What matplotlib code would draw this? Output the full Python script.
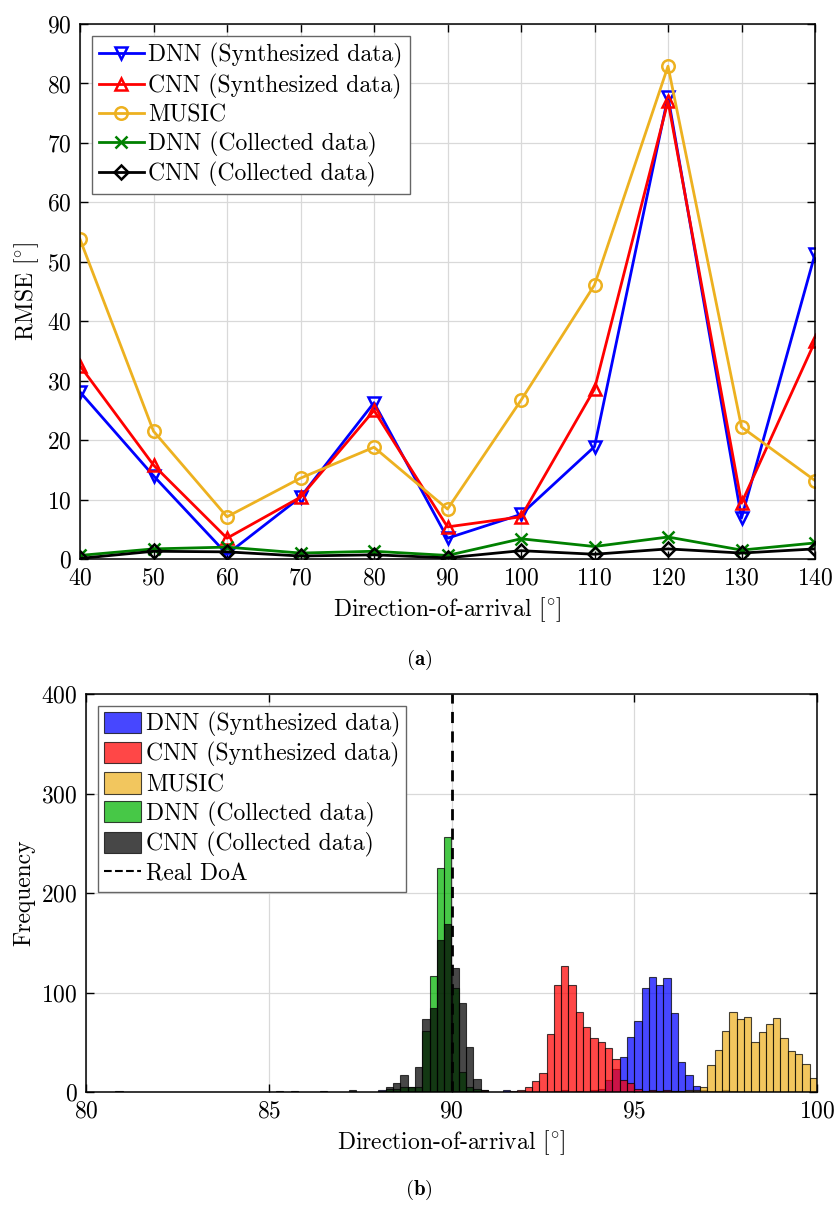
import matplotlib
matplotlib.use('Agg')
import matplotlib.pyplot as plt
from matplotlib.patches import Patch
from matplotlib.lines import Line2D

plt.rcParams['font.family'] = 'serif'
plt.rcParams['font.serif'] = ['cmr10']
plt.rcParams['mathtext.fontset'] = 'cm'
plt.rcParams['axes.formatter.use_mathtext'] = True
plt.rcParams['font.size'] = 17

# ---------- (a) RMSE vs DoA ----------
doa = [40, 50, 60, 70, 80, 90, 100, 110, 120, 130, 140]
rmse_dnn_syn = [28.1, 14.0, 0.8, 10.4, 26.3, 3.5, 7.5, 18.9, 77.8, 6.9, 51.3]
rmse_cnn_syn = [32.5, 15.8, 3.5, 10.4, 25.0, 5.4, 7.1, 28.6, 77.0, 9.4, 36.6]
rmse_music = [53.8, 21.5, 7.1, 13.6, 18.8, 8.4, 26.7, 46.1, 82.9, 22.2, 13.2]
rmse_dnn_col = [0.6, 1.7, 2.0, 1.0, 1.3, 0.6, 3.4, 2.1, 3.7, 1.5, 2.7]
rmse_cnn_col = [0.1, 1.3, 1.2, 0.5, 0.7, 0.2, 1.4, 0.8, 1.7, 1.0, 1.7]

# ---------- (b) histogram of estimates (bin width 0.2 deg) ----------
bin_w = 0.2
dnn_syn_left = [88.0, 91.4, 92.8, 93.0, 93.4, 93.8, 94.0, 94.2, 94.4, 94.6, 94.8, 95.0,
                95.2, 95.4, 95.6, 95.8, 96.0, 96.2, 96.4, 96.6, 96.8, 97.0, 97.2, 97.4, 97.6]
dnn_syn_cnt = [2, 2, 1, 2, 1, 2, 3, 12, 23, 35, 55, 71,
               105, 116, 108, 115, 79, 30, 17, 6, 2, 1, 1, 2, 1]
cnn_syn_left = [90.6, 90.8, 91.6, 91.8, 92.0, 92.2, 92.4, 92.6, 92.8, 93.0, 93.2, 93.4,
                93.6, 93.8, 94.0, 94.2, 94.4, 94.6, 94.8, 95.0, 95.2, 95.4, 95.6, 95.8, 96.0]
cnn_syn_cnt = [1, 2, 1, 2, 5, 11, 19, 58, 108, 127, 108, 80,
               65, 54, 50, 44, 33, 12, 9, 3, 1, 2, 1, 2, 1]
music_left = [95.6, 96.0, 96.2, 96.4, 96.6, 96.8, 97.0, 97.2, 97.4, 97.6, 97.8, 98.0,
              98.2, 98.4, 98.6, 98.8, 99.0, 99.2, 99.4, 99.6, 99.8]
music_cnt = [1, 1, 1, 2, 2, 5, 27, 42, 61, 80, 73, 75,
             50, 60, 68, 74, 54, 41, 38, 28, 14]
dnn_col_left = [88.2, 88.4, 88.6, 88.8, 89.0, 89.2, 89.4, 89.6, 89.8, 90.0, 90.2, 90.4, 90.6]
dnn_col_cnt = [3, 3, 5, 5, 5, 61, 117, 225, 256, 105, 20, 5, 3]
cnn_col_left = [80.8, 85.2, 85.6, 86.4, 87.2, 88.0, 88.2, 88.4, 88.6, 88.8, 89.0, 89.2,
                89.4, 89.6, 89.8, 90.0, 90.2, 90.4, 90.6, 90.8]
cnn_col_cnt = [1, 1, 1, 1, 2, 1, 5, 9, 17, 5, 25, 73,
               84, 153, 169, 125, 89, 45, 13, 2]
real_doa = 90

music_c = (0.929, 0.694, 0.125)

fig = plt.figure(figsize=(8.38, 12.05), dpi=100)
ax1 = fig.add_axes([80/838, 1-559/1205, 735/838, 535/1205])
ax2 = fig.add_axes([86/838, 1-1092/1205, 731/838, 398/1205])

lw, ms, mew = 2.0, 9, 1.8
ax1.plot(doa, rmse_dnn_syn, '-v', color='b', lw=lw, ms=ms, mew=mew, mfc='none', label='DNN (Synthesized data)')
ax1.plot(doa, rmse_cnn_syn, '-^', color='r', lw=lw, ms=ms, mew=mew, mfc='none', label='CNN (Synthesized data)')
ax1.plot(doa, rmse_music, '-o', color=music_c, lw=lw, ms=ms, mew=mew, mfc='none', label='MUSIC')
ax1.plot(doa, rmse_dnn_col, '-x', color=(0, 0.5, 0), lw=lw, ms=ms, mew=mew, label='DNN (Collected data)')
ax1.plot(doa, rmse_cnn_col, '-D', color='k', lw=lw, ms=7.5, mew=mew, mfc='none', label='CNN (Collected data)')
ax1.set_xlim(40, 140)
ax1.set_ylim(0, 90)
ax1.set_xticks(range(40, 141, 10))
ax1.set_yticks(range(0, 91, 10))
ax1.set_xlabel(r'Direction-of-arrival $[^{\circ}]$')
ax1.set_ylabel(r'RMSE $[^{\circ}]$')
ax1.legend(loc='upper left', fancybox=False, edgecolor='0.4', framealpha=1,
           handlelength=1.9, handletextpad=0.2, borderpad=0.3, labelspacing=0.23,
           borderaxespad=0.5)

hist_kw = dict(width=bin_w, align='edge', alpha=0.72, edgecolor='k', linewidth=0.8)
ax2.bar(dnn_syn_left, dnn_syn_cnt, color='b', **hist_kw)
ax2.bar(cnn_syn_left, cnn_syn_cnt, color='r', **hist_kw)
ax2.bar(music_left, music_cnt, color=music_c, **hist_kw)
ax2.bar(dnn_col_left, dnn_col_cnt, color=(0, 0.7, 0), **hist_kw)
ax2.bar(cnn_col_left, cnn_col_cnt, color='k', **hist_kw)
ax2.axvline(real_doa, color='k', ls='--', lw=2, dashes=(4, 3))
ax2.set_xlim(80, 100)
ax2.set_ylim(0, 400)
ax2.set_xticks([80, 85, 90, 95, 100])
ax2.set_yticks(range(0, 401, 100))
ax2.set_xlabel(r'Direction-of-arrival $[^{\circ}]$')
ax2.set_ylabel('Frequency')
handles = [Patch(facecolor=c, edgecolor='k', alpha=0.72, lw=0.8)
           for c in ['b', 'r', music_c, (0, 0.7, 0), 'k']]
handles.append(Line2D([], [], color='k', ls='--', lw=1.5))
labels = ['DNN (Synthesized data)', 'CNN (Synthesized data)', 'MUSIC',
          'DNN (Collected data)', 'CNN (Collected data)', 'Real DoA']
ax2.legend(handles, labels, loc='upper left', fancybox=False, edgecolor='0.4', framealpha=1,
           handlelength=1.6, handleheight=1.0, handletextpad=0.2, borderpad=0.25,
           labelspacing=0.22, borderaxespad=0.5)

for ax in (ax1, ax2):
    ax.grid(True, color='0.85', lw=0.9)
    ax.set_axisbelow(True)
    ax.tick_params(direction='in', top=True, right=True, length=6, width=1, pad=6)
    for s in ax.spines.values():
        s.set_linewidth(1.1)

fig.text(0.5, 1-660/1205, r'$(\mathbf{a})$', ha='center', va='center', fontsize=15)
fig.text(0.5, 1-1190/1205, r'$(\mathbf{b})$', ha='center', va='center', fontsize=15)

fig.savefig('out.png', dpi=100)
